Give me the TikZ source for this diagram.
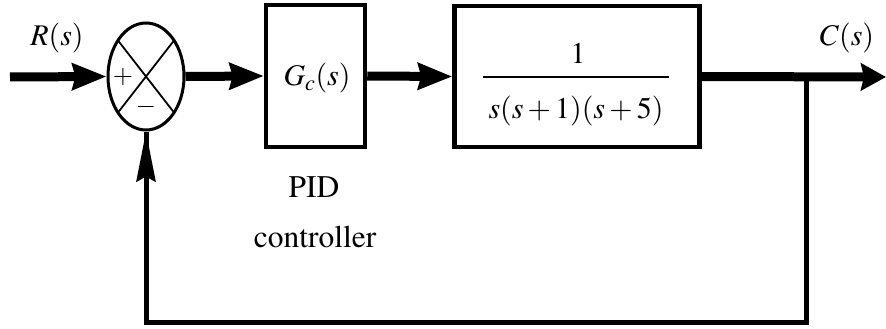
\documentclass[tikz,border=0pt]{standalone}
\usepackage[T1]{fontenc}
\usepackage{mathptmx}
\usetikzlibrary{arrows.meta,shapes.geometric,calc}
\begin{document}
\begin{tikzpicture}[x=1pt,y=-1pt,
  blockbox/.style={draw,rectangle,line width=4.5pt,inner sep=0pt},
  sumnode/.style={draw,ellipse,line width=3pt,inner sep=0pt,minimum width=76pt,minimum height=107pt},
  sig/.style={line width=9pt,-{Stealth[length=34pt,width=26pt,inset=3pt]}},
  fb/.style={line width=5pt},
  lbl/.style={inner sep=0pt,font=\fontsize{30}{34}\selectfont},
  captext/.style={inner sep=0pt,anchor=base,font=\fontsize{31.5}{36}\selectfont},
  sgn/.style={inner sep=0pt,font=\fontsize{26}{28}\selectfont}]
\useasboundingbox (0,0) rectangle (886,329);
\node[sumnode] (sum) at (146,76.5) {};
\draw[line width=1.8pt] ($(sum.center)+(-28,-36)$) -- ($(sum.center)+(28,36)$);
\draw[line width=1.8pt] ($(sum.center)+(28,-36)$) -- ($(sum.center)+(-28,36)$);
\node[sgn] (plus) at (123,77) {$+$};
\node[sgn] (minus) at (146,107) {$-$};
\node[blockbox,minimum width=99pt,minimum height=142pt] (gc) at (315.5,76) {};
\node[lbl] (gctext) at (317,78) {$G_c(s)$};
\node[blockbox,minimum width=245pt,minimum height=141pt] (plant) at (577,76.5) {};
\node[lbl] (num) at (578,53) {$1$};
\coordinate (barl) at (483,77);
\coordinate (barr) at (669,77);
\draw[line width=1.6pt] (barl) -- (barr);
\node[lbl] (den) at (576,111) {$s(s+1)(s+5)$};
\node[lbl] (rs) at (57,38) {$R(s)$};
\node[lbl] (cs) at (847,38) {$C(s)$};
\node[captext] (pid) at (314,197) {$\mathrm{PID}$};
\node[captext] (ctrl) at (315,247) {$\mathrm{controller}$};
\coordinate (in) at (10,77);
\coordinate (out) at (886,77);
\coordinate (br) at (806,77);
\coordinate (fb1) at (806,322);
\coordinate (fb2) at (146,322);
\draw[sig] (in) -- (sum.west);
\draw[sig] (sum.east) -- (gc.west);
\draw[sig] (gc.east) -- (plant.west);
\draw[sig,-{Stealth[length=25pt,width=27pt,inset=3pt]}] (plant.east) -- (out);
\draw[fb,line join=miter] (br) -- (fb1) -- (fb2) -- (sum.south);
\draw[fb,-{Stealth[length=50pt,width=19pt,inset=5pt]}] (fb2) -- (sum.south);
\end{tikzpicture}
\end{document}
